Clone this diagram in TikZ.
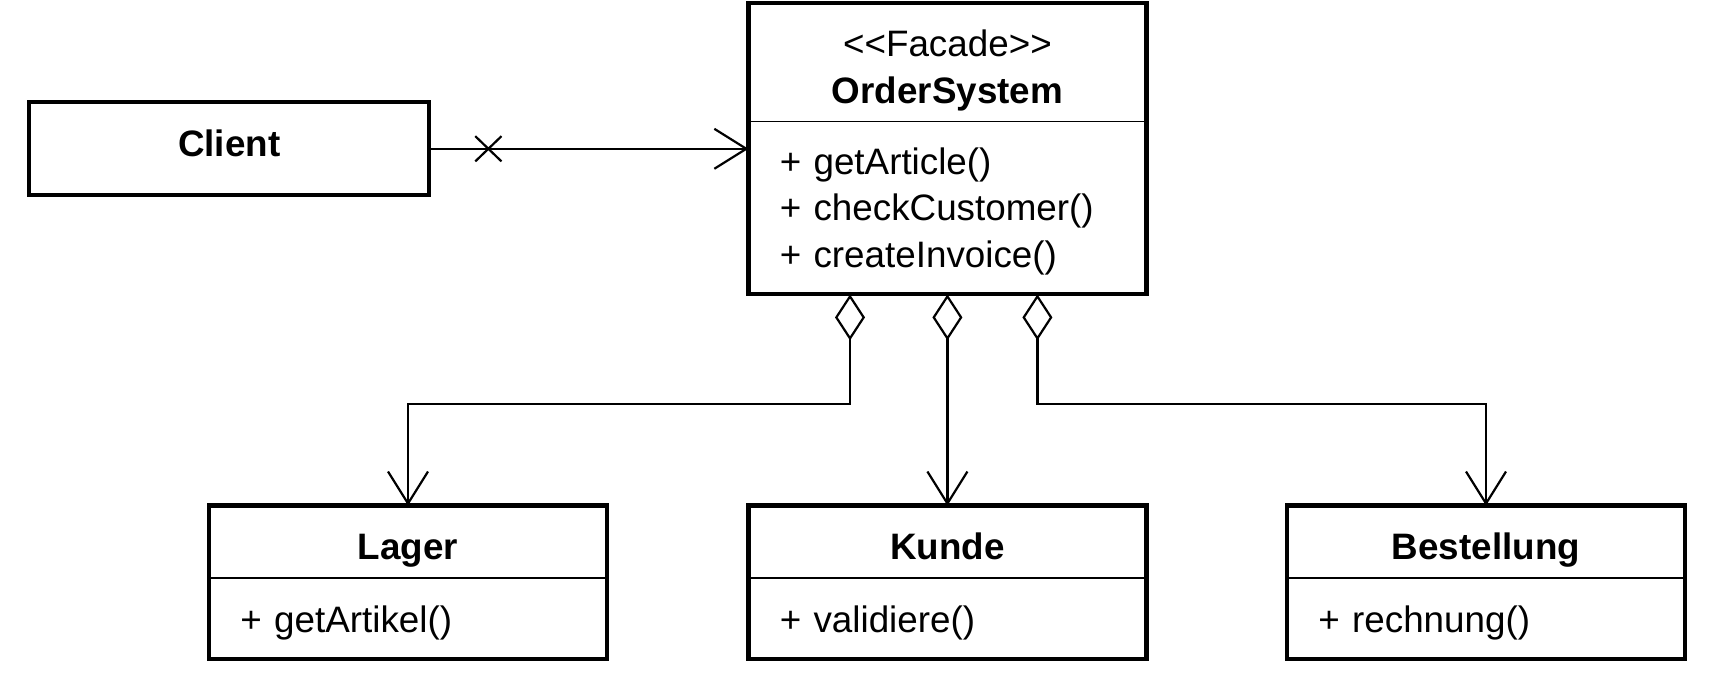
\documentclass[tikz,border=0pt]{standalone}
\usepackage{fontspec}
\setmainfont{Liberation Sans}
\usepackage{tikz}
\usetikzlibrary{arrows.meta,positioning,shapes.misc}

\begin{document}
\begin{tikzpicture}[>={Straight Barb[length=16pt,width=20pt]},
    font=\fontsize{18.4}{23.3}\selectfont]
  \tikzstyle{compart}=[rectangle,draw,line width=0.75pt,outer sep=0pt,
                       minimum width=199pt]
  \tikzstyle{namepart}=[compart,align=center]
  \tikzstyle{methpart}=[compart,text width=167.6pt,inner xsep=15.7pt,
                        align=left]
  \tikzstyle{subname}=[namepart,minimum height=36.2pt,
                       text height=22pt,text depth=3.9pt]
  \tikzstyle{submeth}=[methpart,minimum height=40.5pt,
                       text height=17.8pt,text depth=3.9pt]
  \tikzstyle{outline}=[line width=2.1pt]
  \tikzstyle{single}=[rectangle,draw,line width=2.1pt,minimum width=200pt,
                      minimum height=46.5pt,text height=11.7pt,text depth=3.9pt]
  \tikzstyle{assoc}=[line width=1.1pt,->]
  \tikzstyle{agg}=[line width=1.1pt,{Diamond[open,length=23pt,width=15pt]}->]
  \tikzstyle{xmark}=[cross out,draw,line width=1.1pt,minimum width=12pt,
                     minimum height=11.5pt,inner sep=0pt]

  \useasboundingbox (0,0) rectangle (858pt,-344pt);

  % facade
  \node [namepart,minimum height=59.1pt] (ordername) at (473.7pt,-31.2pt)
    {\rule{0pt}{21.3pt}<{}<Facade>{}>\\\textbf{OrderSystem}};
  \node [methpart,minimum height=86.45pt] (ordermeth) [below=0pt of ordername]
    {\rule{0pt}{16.6pt}+ getArticle()\\+ checkCustomer()\\+ createInvoice()};
  \draw [outline] (ordername.north west) rectangle (ordermeth.south east);

  % client
  \node [single] (client) at (114.6pt,-74.4pt) {\textbf{Client}};

  % subsystems
  \node [subname] (lagername) at (204pt,-270.9pt) {\textbf{Lager}};
  \node [submeth] (lagermeth) [below=0pt of lagername] {+ getArtikel()};
  \draw [outline] (lagername.north west) rectangle (lagermeth.south east);

  \node [subname] (kundename) at (473.7pt,-270.9pt) {\textbf{Kunde}};
  \node [submeth] (kundemeth) [below=0pt of kundename] {+ validiere()};
  \draw [outline] (kundename.north west) rectangle (kundemeth.south east);

  \node [subname] (bestname) at (743pt,-270.9pt) {\textbf{Bestellung}};
  \node [submeth] (bestmeth) [below=0pt of bestname] {+ rechnung()};
  \draw [outline] (bestname.north west) rectangle (bestmeth.south east);

  % connectors
  \draw [assoc] (client.east) -- node [xmark,pos=0.18] (cx) {}
    (client.east -| ordermeth.west);

  \coordinate (a1) at ([xshift=-48.7pt]ordermeth.south);
  \coordinate (a3) at ([xshift=45pt]ordermeth.south);
  \draw [agg] (a1) -- ++(0,-54.8pt) -| (lagername.north);
  \draw [agg] (ordermeth.south) -- (kundename.north);
  \draw [agg] (a3) -- ++(0,-54.8pt) -| (bestname.north);
\end{tikzpicture}
\end{document}
